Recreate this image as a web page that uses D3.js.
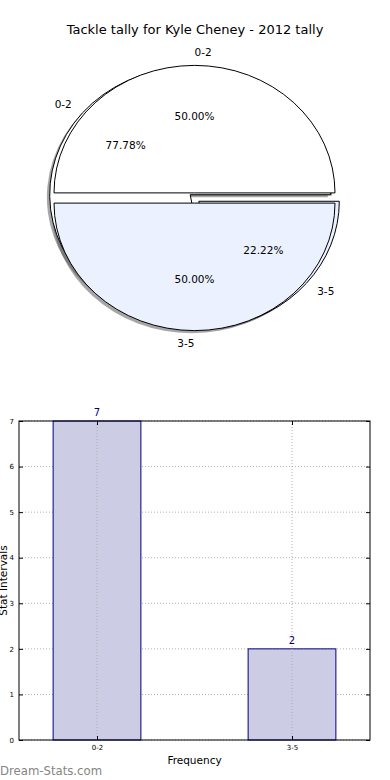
<!DOCTYPE html>
<meta charset='utf-8'>
<style>
  body { margin: 0; background: #fff; }
  svg text { font-family: 'DejaVu Sans', sans-serif; }
</style>
<div id='chart'></div>
<script src='https://d3js.org/d3.v7.min.js'></script>
<script>

  // data
  var categories = ['0-2', '3-5'];
  var tallies = [7, 2];            // tackles per interval (bar chart + shadowed pie)
  var intervalShares = [50, 50];   // second, exploded pie
  var yTicks = [0, 1, 2, 3, 4, 5, 6, 7];

  var W = 390, H = 780;
  var svg = d3.select('#chart').append('svg')
      .attr('width', W)
      .attr('height', H);

  svg.append('text')
    .attr('x', 195).attr('y', 34)
    .attr('text-anchor', 'middle')
    .style('font-size', '13px')
    .text('Tackle tally for Kyle Cheney - 2012 tally');

  // ---- pies (ellipses: axes not equal) ----
  var cx = 194.5, cy = 198, rx = 140.5, ry = 127.5, explode = 0.04;
  var pieColors = ['#ffffff', '#ebf1fe'];

  // matplotlib style: start at 3 o'clock, counter clockwise
  var pie = d3.pie().sort(null)
      .startAngle(Math.PI / 2)
      .endAngle(Math.PI / 2 - 2 * Math.PI);
  var arc = d3.arc().innerRadius(0).outerRadius(1);

  function layout(values) {
    var total = d3.sum(values);
    var cum = 0;
    return pie(values).map(function (d, i) {
      // mid angle counted like matplotlib does (ccw from 3 o'clock)
      var theta = Math.PI * (2 * cum + d.value) / total;
      cum += d.value;
      var ux = Math.cos(theta), uy = -Math.sin(theta);
      return {
        d: d, i: i, pct: d.value / total * 100,
        ux: ux, uy: uy,
        ox: cx + explode * rx * ux,
        oy: cy + explode * ry * uy
      };
    });
  }

  var pieA = layout(tallies);
  var pieB = layout(intervalShares);

  function wedgeTransform(w, dx, dy) {
    return 'translate(' + (w.ox + dx) + ',' + (w.oy + dy) + ') scale(' + rx + ',' + ry + ')';
  }

  // shadows go under every wedge
  var gShadow = svg.append('g');
  [pieA, pieB].forEach(function (p) {
    gShadow.selectAll(null)
      .data(p)
      .enter().append('path')
        .attr('d', function (w) { return arc(w.d); })
        .attr('transform', function (w) { return wedgeTransform(w, -0.02 * rx, 0.02 * ry); })
        .attr('fill', '#4d4d4d')
        .attr('fill-opacity', 0.5);
  });

  [pieA, pieB].forEach(function (p) {
    svg.append('g').selectAll(null)
      .data(p)
      .enter().append('path')
        .attr('d', function (w) { return arc(w.d); })
        .attr('transform', function (w) { return wedgeTransform(w, 0, 0); })
        .attr('fill', function (w) { return pieColors[w.i]; })
        .attr('stroke', '#000')
        .attr('stroke-width', 1)
        .attr('vector-effect', 'non-scaling-stroke');
  });

  [pieA, pieB].forEach(function (p) {
    var g = svg.append('g').style('font-size', '10.5px');
    g.selectAll(null)
      .data(p)
      .enter().append('text')
        .attr('x', function (w) { return w.ox + 1.1 * rx * w.ux; })
        .attr('y', function (w) { return w.oy + 1.1 * ry * w.uy; })
        .attr('dy', '0.35em')
        .attr('text-anchor', function (w) { return w.ux > 0 ? 'start' : 'end'; })
        .text(function (w) { return categories[w.i]; });
    g.selectAll(null)
      .data(p)
      .enter().append('text')
        .attr('x', function (w) { return w.ox + 0.6 * rx * w.ux; })
        .attr('y', function (w) { return w.oy + 0.6 * ry * w.uy; })
        .attr('dy', '0.35em')
        .attr('text-anchor', 'middle')
        .text(function (w) { return w.pct.toFixed(2) + '%'; });
  });

  // ---- bar chart ----
  var plotLeft = 19, plotRight = 370, plotTop = 421, plotBottom = 740;
  var x = d3.scaleLinear().domain([-0.4, 1.4]).range([plotLeft, plotRight]);
  var y = d3.scaleLinear().domain([0, 7]).range([plotBottom, plotTop]);
  var barW = 0.45;

  var gBar = svg.append('g');

  // grid
  gBar.append('g').selectAll(null)
    .data(yTicks)
    .enter().append('line')
      .attr('x1', plotLeft).attr('x2', plotRight)
      .attr('y1', function (d) { return y(d); })
      .attr('y2', function (d) { return y(d); })
      .attr('stroke', '#b0b0b0')
      .attr('stroke-dasharray', '1,2');

  gBar.append('g').selectAll(null)
    .data(tallies)
    .enter().append('rect')
      .attr('x', function (d, i) { return x(i - barW / 2); })
      .attr('y', function (d) { return y(d); })
      .attr('width', function (d, i) { return x(i + barW / 2) - x(i - barW / 2); })
      .attr('height', function (d) { return y(0) - y(d); })
      .attr('fill', '#ccccE5')
      .attr('stroke', '#000080')
      .attr('stroke-width', 1);

  gBar.append('g').selectAll(null)
    .data(categories)
    .enter().append('line')
      .attr('x1', function (d, i) { return x(i); })
      .attr('x2', function (d, i) { return x(i); })
      .attr('y1', plotTop).attr('y2', plotBottom)
      .attr('stroke', '#b0b0b0')
      .attr('stroke-dasharray', '1,2');

  gBar.append('g').selectAll(null)
    .data(tallies)
    .enter().append('text')
      .attr('x', function (d, i) { return x(i); })
      .attr('y', function (d) { return y(d) - 5; })
      .attr('text-anchor', 'middle')
      .attr('fill', '#000080')
      .style('font-size', '10px')
      .text(function (d) { return d; });

  // axes, matplotlib classic inward ticks on all sides
  var tickFont = '7px';
  gBar.append('g')
    .attr('transform', 'translate(0,' + plotBottom + ')')
    .call(d3.axisBottom(x).tickValues([0, 1])
      .tickFormat(function (i) { return categories[i]; })
      .tickSizeInner(-4).tickSizeOuter(0).tickPadding(5))
    .call(function (g) { g.select('.domain').remove(); })
    .selectAll('text').style('font-size', tickFont);
  gBar.append('g')
    .attr('transform', 'translate(0,' + plotTop + ')')
    .call(d3.axisTop(x).tickValues([0, 1]).tickFormat('')
      .tickSizeInner(-4).tickSizeOuter(0))
    .call(function (g) { g.select('.domain').remove(); });
  gBar.append('g')
    .attr('transform', 'translate(' + plotLeft + ',0)')
    .call(d3.axisLeft(y).tickValues(yTicks).tickFormat(d3.format('d'))
      .tickSizeInner(-4).tickSizeOuter(0).tickPadding(5))
    .call(function (g) { g.select('.domain').remove(); })
    .selectAll('text').style('font-size', tickFont);
  gBar.append('g')
    .attr('transform', 'translate(' + plotRight + ',0)')
    .call(d3.axisRight(y).tickValues(yTicks).tickFormat('')
      .tickSizeInner(-4).tickSizeOuter(0))
    .call(function (g) { g.select('.domain').remove(); });

  gBar.append('rect')
    .attr('x', plotLeft).attr('y', plotTop)
    .attr('width', plotRight - plotLeft).attr('height', plotBottom - plotTop)
    .attr('fill', 'none')
    .attr('stroke', '#000')
    .attr('stroke-width', 1);

  gBar.append('text')
    .attr('x', (plotLeft + plotRight) / 2).attr('y', 764)
    .attr('text-anchor', 'middle')
    .style('font-size', '10.5px')
    .text('Frequency');

  gBar.append('text')
    .attr('transform', 'translate(7,' + ((plotTop + plotBottom) / 2) + ') rotate(-90)')
    .attr('text-anchor', 'middle')
    .style('font-size', '10.5px')
    .text('Stat Intervals');

  svg.append('text')
    .attr('x', 0).attr('y', 775)
    .attr('fill', '#858585')
    .style('font-size', '11.7px')
    .text('Dream-Stats.com');

</script>
